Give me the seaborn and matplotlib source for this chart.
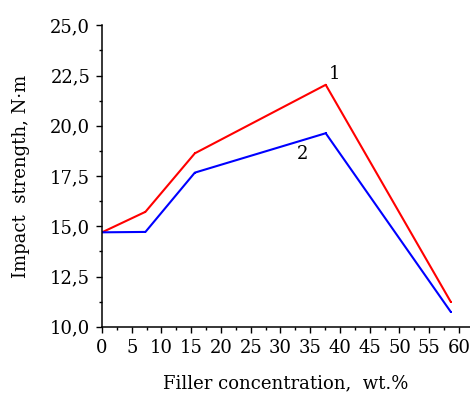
import pandas as pd
import numpy as np
import matplotlib.pyplot as plt
import seaborn as sb

sb.set_style("ticks", {'text.color': 'black', 'axes.labelcolor': 'black',
                       'xtick.color': 'black', 'ytick.color': 'black',
                       'axes.edgecolor': 'black'})
plt.rcParams['font.family'] = ['DejaVu Serif']

# data
conc = [0, 7.3, 15.6, 37.6, 58.6]
impact_1 = [14.70, 15.72, 18.63, 22.04, 11.25]
impact_2 = [14.70, 14.72, 17.67, 19.63, 10.75]

x_ticks = [0, 5, 10, 15, 20, 25, 30, 35, 40, 45, 50, 55, 60]
y_ticks = [10.0, 12.5, 15.0, 17.5, 20.0, 22.5, 25.0]
y_tick_labels = ['10,0', '12,5', '15,0', '17,5', '20,0', '22,5', '25,0']

df = pd.DataFrame({
    'conc': conc * 2,
    'impact': impact_1 + impact_2,
    'curve': ['1'] * len(conc) + ['2'] * len(conc),
})

fig = plt.figure(figsize=(4.7, 3.94), dpi=100)
ax = fig.add_axes([102 / 470, 1 - 326.8 / 394, 368 / 470, 301.5 / 394])

sb.lineplot(data=df, x='conc', y='impact', hue='curve',
            palette={'1': '#ff0000', '2': '#0000ff'},
            marker='s', markersize=2, markeredgewidth=0,
            linewidth=1.5, legend=False, ax=ax)

# curve numbers
ax.text(39.0, 22.58, '1', fontsize=13, ha='center', va='center', color='black')
ax.text(33.7, 18.61, '2', fontsize=13, ha='center', va='center', color='black')

ax.set_xlim(0, 61.85)
ax.set_ylim(10, 25)
ax.set_xticks(x_ticks)
ax.set_xticks(np.arange(2.5, 61, 5), minor=True)
ax.set_yticks(y_ticks)
ax.set_yticklabels(y_tick_labels)
ax.set_yticks(np.arange(11.25, 25, 2.5), minor=True)

ax.tick_params(which='major', direction='out', length=4.5, width=1, labelsize=13, pad=4,
               color='black', labelcolor='black')
ax.tick_params(which='minor', direction='out', length=2.5, width=1, color='black')

for s in ['top', 'right']:
    ax.spines[s].set_visible(False)
for s in ['left', 'bottom']:
    ax.spines[s].set_linewidth(1.1)
    ax.spines[s].set_color('black')

ax.set_xlabel('Filler concentration,  wt.%', fontsize=13, labelpad=13, color='black')
ax.set_ylabel('Impact  strength, N\u00b7m', fontsize=13, labelpad=14, color='black')

fig.savefig('out.png', dpi=100)
